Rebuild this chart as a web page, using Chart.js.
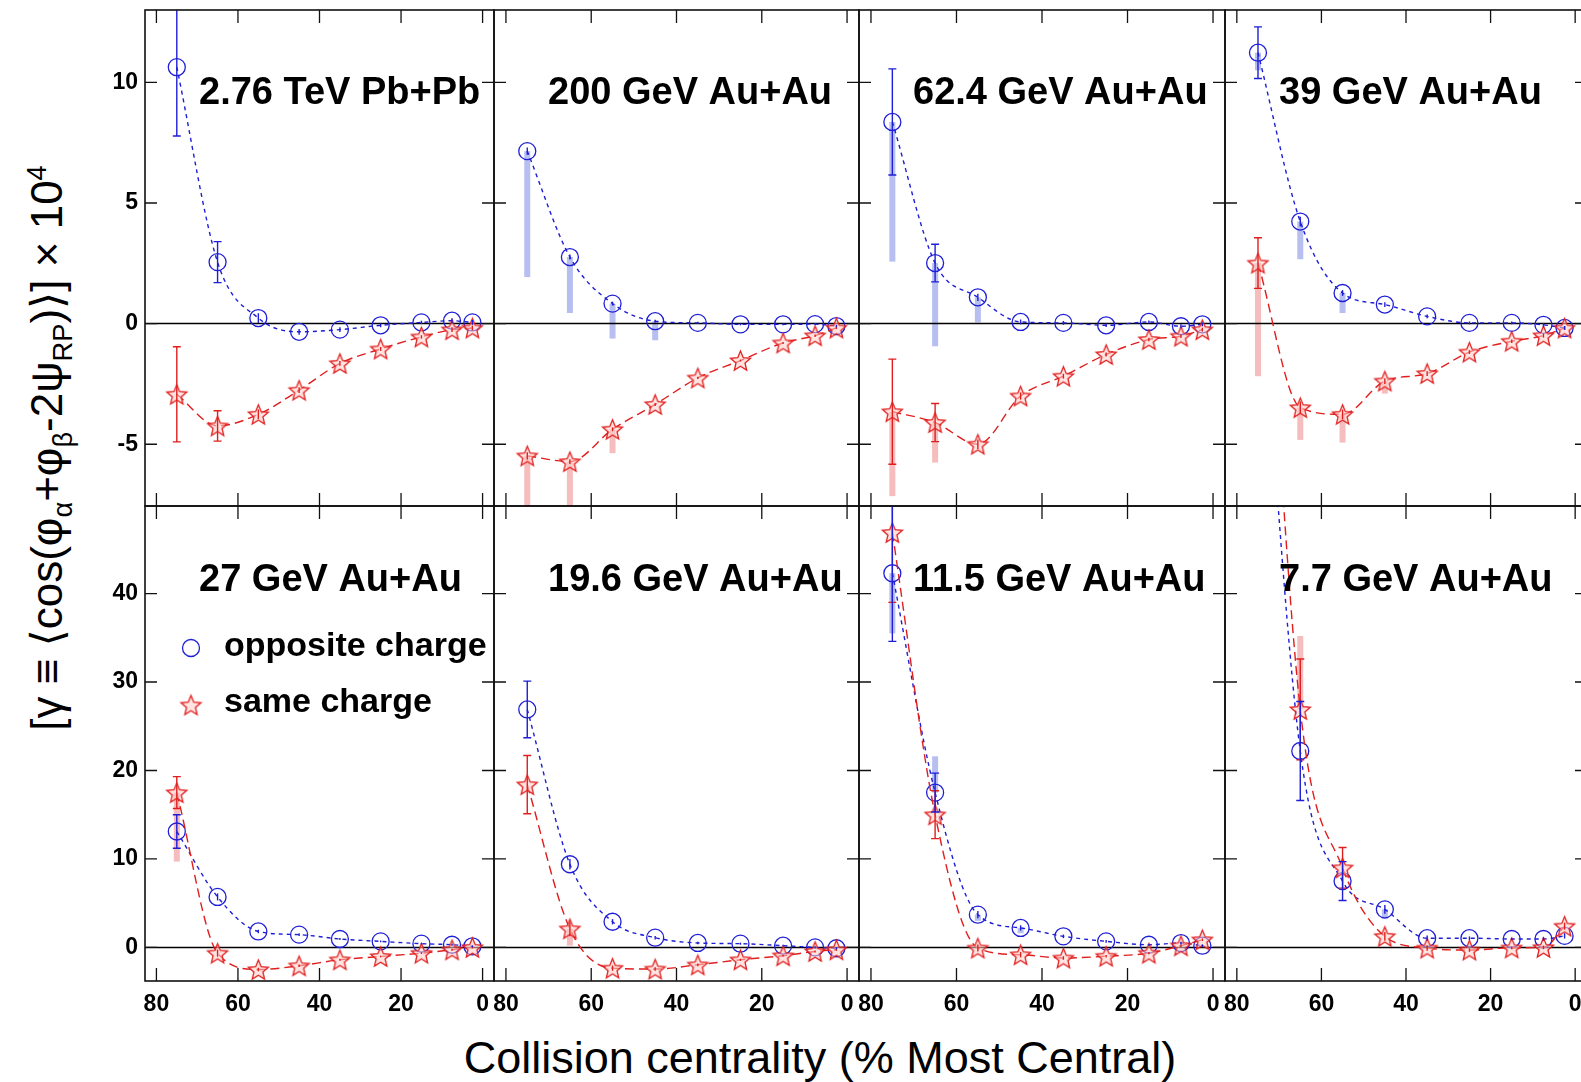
<!DOCTYPE html>
<html>
<head>
<meta charset="utf-8">
<script src="https://cdn.jsdelivr.net/npm/chart.js@4.4.1/dist/chart.umd.min.js"></script>
<style>
  html, body { margin: 0; padding: 0; background: #fff; width: 1581px; height: 1082px; overflow: hidden; }
  #wrap { position: relative; width: 1581px; height: 1082px; overflow: hidden; }
  #wrap canvas { position: absolute; }
  .ytitle {
    position: absolute; left: 47px; top: 448px;
    transform: translate(-50%, -50%) rotate(-90deg);
    font: 44px "Liberation Sans", "DejaVu Sans", sans-serif; line-height: 44px;
    white-space: nowrap; color: #000;
  }
  .ytitle sub, .ytitle sup { font-size: 0.62em; line-height: 0; }
  .xtitle {
    position: absolute; left: 0; width: 1640px; top: 1035px; text-align: center;
    font: 45px "Liberation Sans", sans-serif; line-height: 45px; color: #000; white-space: nowrap;
  }
</style>
</head>
<body>
<div id="wrap">
  <div class="ytitle">[γ ≡ ⟨cos(φ<sub>α</sub>+φ<sub>β</sub>-2ψ<sub>RP</sub>)⟩] × 10<sup>4</sup></div>
  <div class="xtitle">Collision centrality (% Most Central)</div>
</div>
<script>
// centrality bins (bin centres, % most central)
const centrality = [75, 65, 55, 45, 35, 25, 15, 7.5, 2.5];
const xTicks = [80, 60, 40, 20, 0];
const yTicksTop = [-5, 0, 5, 10];
const yTicksBottom = [0, 10, 20, 30, 40];
const panelLabels = ['2.76 TeV Pb+Pb', '200 GeV Au+Au', '62.4 GeV Au+Au', '39 GeV Au+Au',
                     '27 GeV Au+Au', '19.6 GeV Au+Au', '11.5 GeV Au+Au', '7.7 GeV Au+Au'];
const legendLabels = ['opposite charge', 'same charge'];

// 2.76 TeV Pb+Pb
const opp276 = [10.63, 2.55, 0.23, -0.34, -0.25, -0.07, 0.05, 0.12, 0.05];
const oppErr276 = [2.85, 0.85, 0.2, 0.12, 0.1, 0.08, 0.07, 0.1, 0.1];
const same276 = [-2.93, -4.24, -3.76, -2.76, -1.65, -1.05, -0.55, -0.25, -0.18];
const sameErr276 = [1.97, 0.63, 0.2, 0.12, 0.1, 0.08, 0.07, 0.1, 0.1];

// 200 GeV Au+Au
const opp200 = [7.15, 2.76, 0.83, 0.10, 0.03, -0.03, -0.03, -0.02, -0.10];
const oppErr200 = [0.15, 0.1, 0.08, 0.06, 0.05, 0.04, 0.04, 0.05, 0.05];
const oppSys200 = [[1.93, 7.15], [0.44, 2.76], [-0.62, 0.83], [-0.69, 0.10], null, null, null, null, null];
const same200 = [-5.48, -5.72, -4.38, -3.35, -2.25, -1.53, -0.80, -0.50, -0.18];
const sameErr200 = [0.15, 0.1, 0.08, 0.06, 0.05, 0.04, 0.04, 0.05, 0.05];
const sameSys200 = [[-8.0, -5.48], [-8.0, -5.72], [-5.37, -4.38], null, null, null, null, null, null];

// 62.4 GeV Au+Au
const opp624 = [8.36, 2.51, 1.09, 0.07, 0.03, -0.07, 0.07, -0.11, -0.03];
const oppErr624 = [2.2, 0.78, 0.15, 0.1, 0.08, 0.07, 0.06, 0.08, 0.08];
const oppSys624 = [[2.57, 8.36], [-0.94, 2.51], [0.05, 1.09], null, null, null, null, null, null];
const same624 = [-3.65, -4.10, -5.00, -3.00, -2.18, -1.28, -0.66, -0.52, -0.25];
const sameErr624 = [2.18, 0.79, 0.2, 0.15, 0.1, 0.08, 0.07, 0.08, 0.08];
const sameSys624 = [[-7.15, -3.65], [-5.76, -4.10], null, null, null, null, null, null, null];

// 39 GeV Au+Au
const opp39 = [11.23, 4.23, 1.27, 0.79, 0.30, 0.03, 0.03, -0.05, -0.18];
const oppErr39 = [1.07, 0.2, 0.12, 0.1, 0.08, 0.06, 0.06, 0.08, 0.08];
const oppSys39 = [[10.5, 11.23], [2.67, 4.23], [0.44, 1.27], null, null, null, null, null, null];
const same39 = [2.51, -3.48, -3.76, -2.38, -2.07, -1.18, -0.73, -0.50, -0.18];
const sameErr39 = [1.05, 0.25, 0.2, 0.12, 0.1, 0.08, 0.07, 0.08, 0.08];
const sameSys39 = [[-2.18, 2.51], [-4.82, -3.48], [-4.93, -3.76], [-2.9, -2.38], null, null, null, null, null];

// 27 GeV Au+Au
const opp27 = [13.1, 5.7, 1.8, 1.44, 0.95, 0.68, 0.42, 0.30, 0.12];
const oppErr27 = [1.9, 0.4, 0.2, 0.15, 0.12, 0.1, 0.1, 0.12, 0.12];
const same27 = [17.5, -0.65, -2.5, -2.08, -1.40, -1.03, -0.65, -0.27, 0.0];
const sameErr27 = [1.8, 0.4, 0.2, 0.15, 0.12, 0.1, 0.1, 0.12, 0.12];
const sameSys27 = [[9.7, 17.5], null, null, null, null, null, null, null, null];

// 19.6 GeV Au+Au
const opp196 = [26.9, 9.4, 2.9, 1.1, 0.5, 0.42, 0.19, 0.0, -0.1];
const oppErr196 = [3.2, 0.6, 0.3, 0.2, 0.15, 0.12, 0.1, 0.12, 0.12];
const same196 = [18.4, 2.1, -2.35, -2.45, -1.97, -1.40, -0.94, -0.46, -0.27];
const sameErr196 = [3.3, 0.8, 0.3, 0.2, 0.15, 0.12, 0.1, 0.12, 0.12];
const sameSys196 = [null, [0.2, 2.1], null, null, null, null, null, null, null];

// 11.5 GeV Au+Au
const opp115 = [42.3, 17.5, 3.7, 2.2, 1.25, 0.68, 0.30, 0.49, 0.19];
const oppErr115 = [7.7, 2.2, 0.4, 0.3, 0.2, 0.15, 0.12, 0.15, 0.15];
const oppSys115 = [[35.5, 42.3], [17.5, 21.6], [3.0, 3.7], [1.6, 2.2], null, null, null, null, null];
const same115 = [46.9, 15.0, -0.07, -0.83, -1.20, -1.00, -0.65, 0.19, 0.87];
const sameErr115 = [7.9, 2.7, 0.4, 0.3, 0.2, 0.15, 0.12, 0.15, 0.15];

// 7.7 GeV Au+Au (most peripheral bin is off scale)
const opp77 = [80, 22.2, 7.5, 4.3, 1.04, 1.04, 0.95, 0.95, 1.3];
const oppErr77 = [10, 5.6, 2.2, 0.5, 0.3, 0.2, 0.15, 0.2, 0.3];
const oppSys77 = [null, null, null, [3.2, 4.3], null, null, null, null, null];
const same77 = [95, 26.9, 9.0, 1.25, -0.07, -0.30, -0.05, 0.0, 2.4];
const sameErr77 = [12, 5.7, 2.3, 0.5, 0.3, 0.2, 0.15, 0.2, 0.4];
const sameSys77 = [null, [26.9, 35.2], null, null, null, null, null, null, null];

const panels = [
  { opp: opp276, oppErr: oppErr276, oppSys: null, same: same276, sameErr: sameErr276, sameSys: null },
  { opp: opp200, oppErr: oppErr200, oppSys: oppSys200, same: same200, sameErr: sameErr200, sameSys: sameSys200 },
  { opp: opp624, oppErr: oppErr624, oppSys: oppSys624, same: same624, sameErr: sameErr624, sameSys: sameSys624 },
  { opp: opp39, oppErr: oppErr39, oppSys: oppSys39, same: same39, sameErr: sameErr39, sameSys: sameSys39 },
  { opp: opp27, oppErr: oppErr27, oppSys: null, same: same27, sameErr: sameErr27, sameSys: sameSys27 },
  { opp: opp196, oppErr: oppErr196, oppSys: null, same: same196, sameErr: sameErr196, sameSys: sameSys196 },
  { opp: opp115, oppErr: oppErr115, oppSys: oppSys115, same: same115, sameErr: sameErr115, sameSys: null },
  { opp: opp77, oppErr: oppErr77, oppSys: oppSys77, same: same77, sameErr: sameErr77, sameSys: sameSys77 }
];

// layout (page pixels)
const frameX = [145, 494, 859, 1225, 1587];
const frameY = [10, 506, 981];
const xRange = [-2.8, 82.8];
const yRanges = [[-7.56, 13.0], [-3.8, 49.9]];
const PAD = 30, YAXIS_W = 56, XAXIS_H = 46;

const BLUE = 'rgb(30,30,215)';
const RED = 'rgb(225,30,30)';
const SYS_BLUE = 'rgba(165,175,238,0.8)';
const SYS_RED = 'rgba(242,172,172,0.8)';
const FONT = '"Liberation Sans", Arial, sans-serif';

function makeStar(r) {
  const size = Math.ceil(r * 2 + 4);
  const c = document.createElement('canvas');
  c.width = size; c.height = size;
  const g = c.getContext('2d');
  g.translate(size / 2, size / 2 + r * 0.1);
  g.beginPath();
  for (let k = 0; k < 10; k++) {
    const rr = k % 2 === 0 ? r : r * 0.45;
    const ang = -Math.PI / 2 + k * Math.PI / 5;
    g.lineTo(rr * Math.cos(ang), rr * Math.sin(ang));
  }
  g.closePath();
  g.fillStyle = 'rgba(255,205,200,0.55)';
  g.fill();
  g.strokeStyle = RED;
  g.lineWidth = 1.3;
  g.stroke();
  return c;
}
const starImg = makeStar(10.5);

function drawSys(ctx, x, y, sys, color) {
  if (!sys) return;
  ctx.fillStyle = color;
  sys.forEach((s, i) => {
    if (!s) return;
    const px = x.getPixelForValue(centrality[i]);
    const y1 = y.getPixelForValue(s[1]), y0 = y.getPixelForValue(s[0]);
    ctx.fillRect(px - 3, y1, 6, y0 - y1);
  });
}

function drawErr(ctx, x, y, vals, errs, color) {
  ctx.strokeStyle = color;
  ctx.lineWidth = 1.4;
  ctx.setLineDash([]);
  vals.forEach((v, i) => {
    const px = x.getPixelForValue(centrality[i]);
    const top = y.getPixelForValue(v + errs[i]);
    const bot = y.getPixelForValue(v - errs[i]);
    ctx.beginPath();
    ctx.moveTo(px, top); ctx.lineTo(px, bot);
    if (bot - top > 18) {
      ctx.moveTo(px - 4, top); ctx.lineTo(px + 4, top);
      ctx.moveTo(px - 4, bot); ctx.lineTo(px + 4, bot);
    }
    ctx.stroke();
  });
}

function decor(p, idx, row, col) {
  const yt = row === 0 ? yTicksTop : yTicksBottom;
  return {
    id: 'decor' + idx,
    beforeDatasetsDraw(chart) {
      const { ctx, chartArea: a, scales: { x, y } } = chart;
      ctx.save();
      ctx.beginPath();
      ctx.rect(a.left, a.top, a.right - a.left, a.bottom - a.top);
      ctx.clip();
      drawSys(ctx, x, y, p.oppSys, SYS_BLUE);
      drawSys(ctx, x, y, p.sameSys, SYS_RED);
      const y0 = y.getPixelForValue(0);
      ctx.strokeStyle = '#000';
      ctx.lineWidth = 1.5;
      ctx.beginPath();
      ctx.moveTo(a.left, y0); ctx.lineTo(a.right, y0);
      ctx.stroke();
      ctx.restore();
    },
    afterDatasetsDraw(chart) {
      const { ctx, chartArea: a, scales: { x, y } } = chart;
      ctx.save();
      ctx.beginPath();
      ctx.rect(a.left, a.top, a.right - a.left, a.bottom - a.top);
      ctx.clip();
      drawErr(ctx, x, y, p.same, p.sameErr, RED);
      drawErr(ctx, x, y, p.opp, p.oppErr, BLUE);
      ctx.restore();

      // frame + inward ticks
      ctx.save();
      ctx.strokeStyle = '#111';
      ctx.lineWidth = 1.6;
      ctx.strokeRect(a.left, a.top, a.right - a.left, a.bottom - a.top);
      ctx.lineWidth = 1.3;
      ctx.beginPath();
      xTicks.forEach(v => {
        const px = x.getPixelForValue(v);
        ctx.moveTo(px, a.top); ctx.lineTo(px, a.top + 13);
        ctx.moveTo(px, a.bottom); ctx.lineTo(px, a.bottom - 13);
      });
      yt.forEach(v => {
        const py = y.getPixelForValue(v);
        ctx.moveTo(a.left, py); ctx.lineTo(a.left + 12, py);
        ctx.moveTo(a.right, py); ctx.lineTo(a.right - 12, py);
      });
      ctx.stroke();

      // panel label
      ctx.fillStyle = '#000';
      ctx.font = 'bold 38px ' + FONT;
      ctx.textAlign = 'left';
      ctx.textBaseline = 'alphabetic';
      ctx.fillText(panelLabels[idx], a.left + 54, a.top + (row === 0 ? 94 : 85));

      // legend in the 27 GeV panel
      if (row === 1 && col === 0) {
        const lx = a.left + 46;
        ctx.strokeStyle = BLUE;
        ctx.lineWidth = 1.3;
        ctx.beginPath();
        ctx.arc(lx, a.top + 142, 8.5, 0, Math.PI * 2);
        ctx.stroke();
        ctx.drawImage(starImg, lx - starImg.width / 2, a.top + 199 - starImg.height / 2);
        ctx.font = 'bold 34px ' + FONT;
        ctx.fillText(legendLabels[0], a.left + 79, a.top + 150);
        ctx.fillText(legendLabels[1], a.left + 79, a.top + 206);
      }
      ctx.restore();
    }
  };
}

const wrap = document.getElementById('wrap');
panels.forEach((p, idx) => {
  const row = Math.floor(idx / 4), col = idx % 4;
  const showY = col === 0, showX = row === 1;
  const fw = frameX[col + 1] - frameX[col];
  const fh = frameY[row + 1] - frameY[row];
  const padL = PAD + (showY ? YAXIS_W : 0);
  const padB = showX ? XAXIS_H + 4 : PAD;
  const cv = document.createElement('canvas');
  cv.width = fw + padL + PAD;
  cv.height = fh + PAD + padB;
  cv.style.left = (frameX[col] - padL) + 'px';
  cv.style.top = (frameY[row] - PAD) + 'px';
  wrap.appendChild(cv);

  const tickFont = { family: FONT, size: 23, weight: 'bold' };
  const yt = row === 0 ? yTicksTop : yTicksBottom;

  new Chart(cv.getContext('2d'), {
    type: 'line',
    data: {
      datasets: [
        {
          label: legendLabels[1],
          data: centrality.map((c, i) => ({ x: c, y: p.same[i] })),
          borderColor: RED, borderWidth: 1.4, borderDash: [9, 5],
          pointStyle: starImg, pointRadius: 10,
          cubicInterpolationMode: 'monotone', fill: false
        },
        {
          label: legendLabels[0],
          data: centrality.map((c, i) => ({ x: c, y: p.opp[i] })),
          borderColor: BLUE, borderWidth: 1.4, borderDash: [4, 4],
          pointStyle: 'circle', pointRadius: 8.5, pointBorderWidth: 1.3,
          pointBorderColor: BLUE, pointBackgroundColor: 'rgba(255,255,255,0)',
          cubicInterpolationMode: 'monotone', fill: false
        }
      ]
    },
    options: {
      responsive: false,
      animation: false,
      events: [],
      layout: { padding: { left: PAD, right: PAD, top: PAD, bottom: showX ? 4 : PAD } },
      plugins: { legend: { display: false }, tooltip: { enabled: false } },
      scales: {
        x: {
          type: 'linear', reverse: true, min: xRange[0], max: xRange[1],
          display: showX,
          afterBuildTicks: s => { s.ticks = xTicks.map(v => ({ value: v })); },
          afterFit: s => { s.height = showX ? XAXIS_H : 0; },
          grid: { display: false, drawTicks: false },
          border: { display: false },
          ticks: { font: tickFont, color: '#000', padding: 10, maxRotation: 0, minRotation: 0, autoSkip: false }
        },
        y: {
          type: 'linear', min: yRanges[row][0], max: yRanges[row][1],
          display: showY,
          afterBuildTicks: s => { s.ticks = yt.map(v => ({ value: v })); },
          afterFit: s => { s.width = showY ? YAXIS_W : 0; },
          grid: { display: false, drawTicks: false },
          border: { display: false },
          ticks: { font: tickFont, color: '#000', padding: 7, autoSkip: false }
        }
      }
    },
    plugins: [decor(p, idx, row, col)]
  });
});
</script>
</body>
</html>
